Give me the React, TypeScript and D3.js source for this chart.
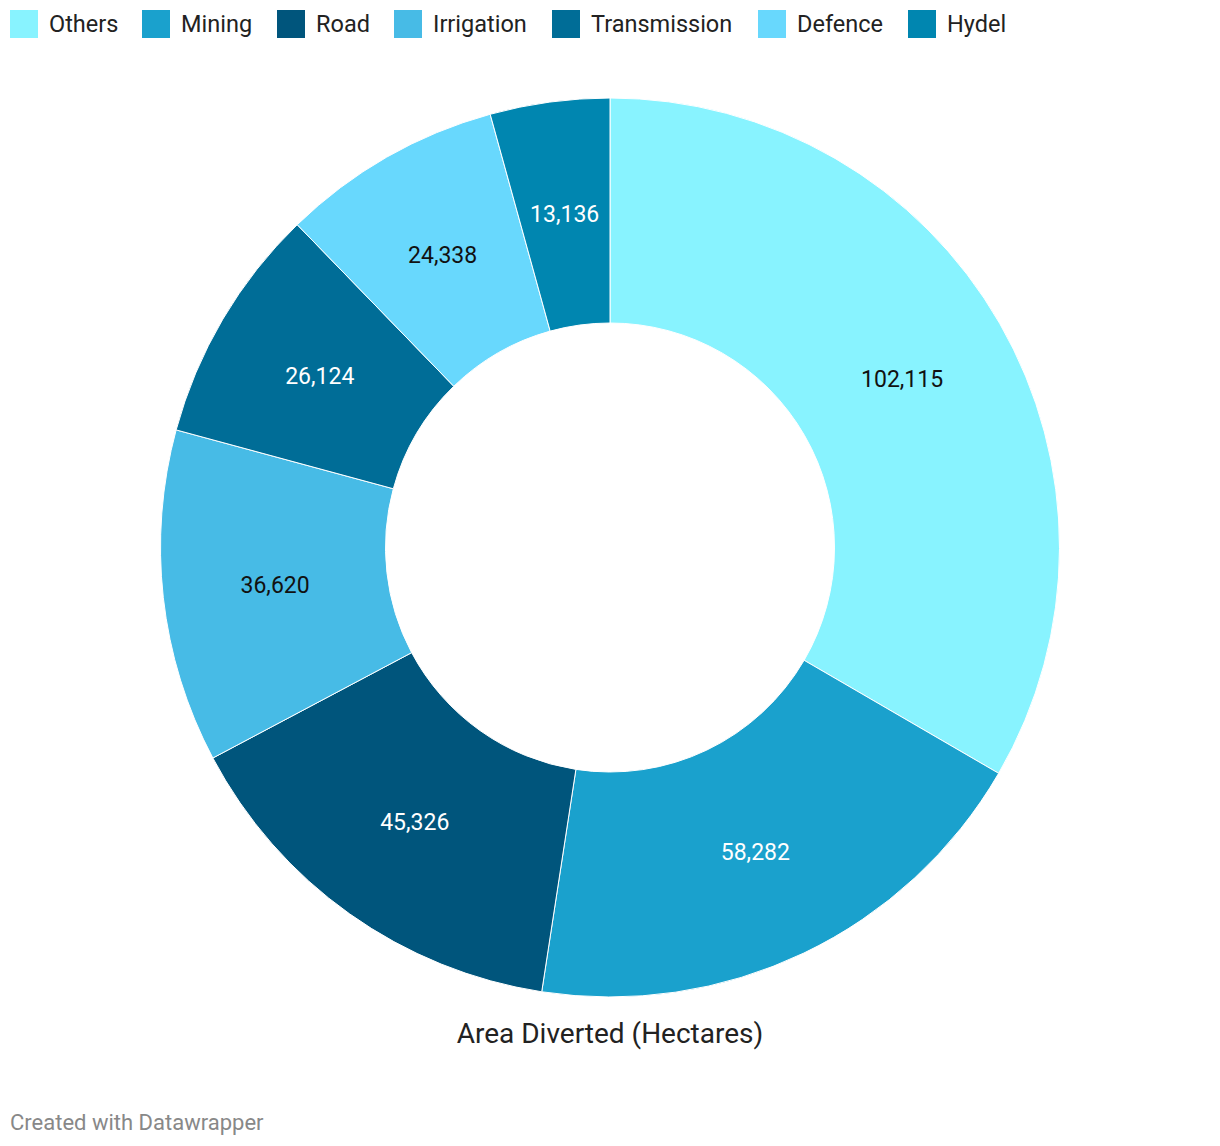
import React from "react";
import * as d3 from "d3";

const categories = ["Others", "Mining", "Road", "Irrigation", "Transmission", "Defence", "Hydel"];
const values = [102115, 58282, 45326, 36620, 26124, 24338, 13136];
const colors = ["#88f3ff", "#1aa1cd", "#00557c", "#47bbe6", "#006d97", "#68d8fd", "#0086b0"];
const labelColors = ["#111", "#fff", "#fff", "#111", "#fff", "#111", "#fff"];
const title = "Area Diverted (Hectares)";
const credit = "Created with Datawrapper";

const W = 1220;
const H = 1146;
const cx = 610;
const cy = 547.5;
const outerR = 449.5;
const innerR = 224.5;

export default function App() {
  const data = categories.map((c, i) => ({ name: c, value: values[i], color: colors[i], lc: labelColors[i] }));
  const pie = d3.pie<any>().sort(null).value((d: any) => d.value);
  const arcs = pie(data);
  const arc = d3.arc<any>().innerRadius(innerR).outerRadius(outerR);
  const labelArc = d3.arc<any>().innerRadius((innerR + outerR) / 2).outerRadius((innerR + outerR) / 2);
  const fmt = d3.format(",");

  // legend layout
  const legendX = [10, 142, 277, 394, 552, 758, 908];

  return (
    <svg width={W} height={H} style={{ position: "absolute", left: 0, top: 0, fontFamily: "Roboto, sans-serif" }}>
      <rect width={W} height={H} fill="#fff" />
      <g>
        {data.map((d, i) => (
          <g key={d.name} transform={`translate(${legendX[i]},0)`}>
            <rect x={0} y={10} width={28} height={28} fill={d.color} />
            <text x={39} y={32} fontSize={23.5} fill="#222">{d.name}</text>
          </g>
        ))}
      </g>
      <g transform={`translate(${cx},${cy})`}>
        {arcs.map((a, i) => (
          <path key={i} d={arc(a) as string} fill={a.data.color} stroke="#fff" strokeWidth={1} />
        ))}
        {arcs.map((a, i) => {
          const [x, y] = labelArc.centroid(a);
          return (
            <text key={"l" + i} x={x} y={y} dy="0.35em" textAnchor="middle" fontSize={23} fill={a.data.lc}>
              {fmt(a.data.value)}
            </text>
          );
        })}
      </g>
      <text x={cx} y={1043} textAnchor="middle" fontSize={28} fill="#222">{title}</text>
      <text x={10} y={1130} fontSize={22} fill="#888">{credit}</text>
    </svg>
  );
}
